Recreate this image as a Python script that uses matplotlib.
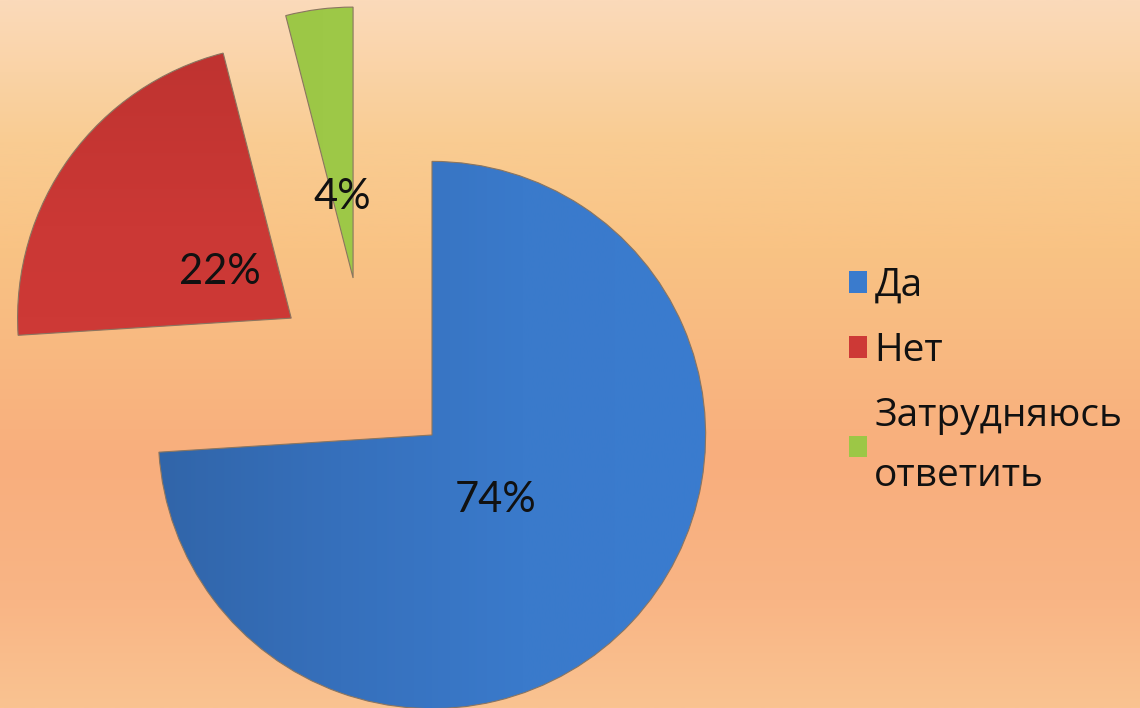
import numpy as np
import matplotlib
matplotlib.use("Agg")
import matplotlib.pyplot as plt
from matplotlib.colors import LinearSegmentedColormap

# ---- data ----
categories = ["Да", "Нет", "Затрудняюсь\nответить"]
values = [74, 22, 4]
colors = ["#3A7BCD", "#CD3936", "#9CC746"]

W, H = 1140, 708
S = 275.0            # pixels per data unit
CX, CY = 432, 435    # pixel position of the main pie centre

fig = plt.figure(figsize=(W / 100, H / 100), dpi=100)
ax = fig.add_axes([0, 0, 1, 1])

x0, x1 = -CX / S, (W - CX) / S
y0, y1 = -(H - CY) / S, CY / S

# background gradient
bg = LinearSegmentedColormap.from_list("bg", [
    (0.00, "#FBDABA"),
    (0.20, "#F9CC92"),
    (0.35, "#F9C384"),
    (0.65, "#F8AE7D"),
    (0.85, "#F9B585"),
    (1.00, "#FAC391"),
])
grad = np.linspace(0, 1, 256).reshape(-1, 1)
ax.imshow(grad, cmap=bg, extent=[x0, x1, y0, y1], aspect="auto",
          origin="upper", zorder=0)

wedges, texts, autotexts = ax.pie(
    values, colors=colors, startangle=90, counterclock=False,
    radius=0.995, autopct="%1.0f%%", pctdistance=0.32,
    wedgeprops=dict(edgecolor="#8a7560", linewidth=0.8),
    textprops=dict(fontsize=30, color="#111111", family=["Lato", "DejaVu Sans"]),
)

# exploded slice positions (shift in data units)
shifts = [(0.0, 0.0), (-0.512, 0.425), (-0.287, 0.571)]
label_dy = -0.02
for w, t, (dx, dy) in zip(wedges, autotexts, shifts):
    w.set_center((dx, dy))
    px, py = t.get_position()
    t.set_position((px + dx, py + dy + label_dy))
    t.set_zorder(5)
wedges[2].set_radius(0.985)

# subtle shading inside each wedge (horizontal for blue/green, vertical for red)
shade = [
    (["#3165A9", "#3670BC", "#3A7ACB", "#3A7CCF"], "h"),
    (["#BE3330", "#CB3835", "#CF3A37", "#D03B38"], "v"),
    (["#96C243", "#9CC746", "#9FCA49", "#A0CB4A"], "h"),
]
for w, (cols, orient) in zip(wedges, shade):
    cm = LinearSegmentedColormap.from_list("w", cols)
    cx, cy = w.center
    arr = np.linspace(0, 1, 256)
    arr = arr.reshape(1, -1) if orient == "h" else arr.reshape(-1, 1)
    im = ax.imshow(arr, cmap=cm, extent=[cx - 1, cx + 1, cy - 1, cy + 1],
                   aspect="auto", origin="upper", zorder=1.5)
    im.set_clip_path(w)
    w.set_zorder(2)
    w.set_facecolor("none")

FS = 28
leg = ax.legend(wedges, categories, loc="upper left",
                bbox_to_anchor=(849 / W, 1 - 267 / H),
                frameon=False,
                prop=dict(family=["Open Sans", "DejaVu Sans"], size=FS),
                handlelength=0.47, handleheight=0.47, handletextpad=0.18,
                labelspacing=0.69, borderpad=0, borderaxespad=0)
for h, c in zip(leg.legend_handles, colors):
    h.set_facecolor(c)
    h.set_edgecolor("none")
for t in leg.get_texts():
    t.set_linespacing(1.78)
    t.set_color("#111111")

ax.set_xlim(x0, x1)
ax.set_ylim(y0, y1)
ax.set_aspect("auto")
ax.axis("off")

fig.savefig("out.png", dpi=100)
